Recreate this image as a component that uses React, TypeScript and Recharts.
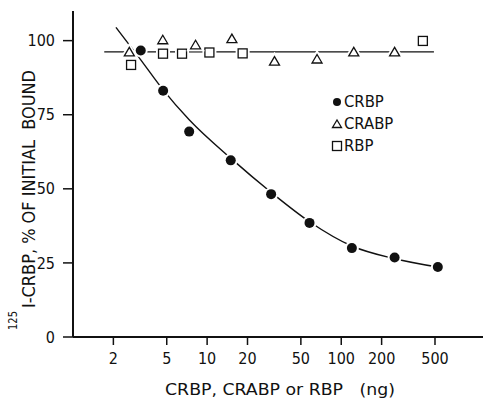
import { Legend, Scatter, ScatterChart, XAxis, YAxis } from "recharts";

const FONT =
  "'Liberation Sans Narrow', 'Arial Narrow', 'DejaVu Sans Condensed', 'Liberation Sans', sans-serif";

const xTicks = [2, 5, 10, 20, 50, 100, 200, 500];
const yTicks = [0, 25, 50, 75, 100];

// ng of competitor vs % of initial bound
const crbpDose = [3.2, 4.7, 7.35, 15, 30, 58, 120, 250, 525];
const crbpBound = [96.7, 83.1, 69.3, 59.6, 48.2, 38.5, 30.0, 26.8, 23.6];

const crabpDose = [2.63, 4.67, 8.2, 15.3, 31.8, 66, 124, 250];
const crabpBound = [96.2, 100.3, 98.6, 100.7, 93.1, 93.8, 96.2, 96.2];

const rbpDose = [2.71, 4.69, 6.5, 10.4, 18.4, 406];
const rbpBound = [91.8, 95.6, 95.6, 96.0, 95.7, 99.9];

// hand-drawn curve through CRBP points and the flat line
const fitDose = [2.09, 3.18, 4.7, 7.35, 15.2, 30.4, 58, 120, 250, 525];
const fitBound = [104.5, 93.7, 83.4, 73.3, 60.1, 48.6, 38.9, 30.7, 26.4, 23.6];

const flatDose = [1.71, 491];
const flatBound = [96.2, 96.2];

const legendNames = ["CRBP", "CRABP", "RBP"];

const zip = (xs: number[], ys: number[]) => xs.map((x, i) => ({ x, y: ys[i] }));

const Filled = (p: any) => (
  <g>
    <circle cx={p.cx} cy={p.cy} r={7} fill="#fff" />
    <circle cx={p.cx} cy={p.cy} r={5} fill="#111" />
  </g>
);

const Tri = (p: any) => {
  const pts = `${p.cx - 5},${p.cy + 4} ${p.cx + 5},${p.cy + 4} ${p.cx},${p.cy - 4.5}`;
  return (
    <g>
      <polygon points={pts} fill="#fff" stroke="#fff" strokeWidth={5} />
      <polygon points={pts} fill="#fff" stroke="#111" strokeWidth={1.3} />
    </g>
  );
};

const Sq = (p: any) => (
  <g>
    <rect x={p.cx - 4.5} y={p.cy - 4.5} width={9} height={9} fill="#fff" stroke="#fff" strokeWidth={5} />
    <rect x={p.cx - 4.5} y={p.cy - 4.5} width={9} height={9} fill="#fff" stroke="#111" strokeWidth={1.3} />
  </g>
);

const Nothing = () => <g />;

const icons = [
  <circle cx={6} cy={8} r={4} fill="#111" />,
  <polygon points="1.5,11.5 10.5,11.5 6,4" fill="#fff" stroke="#111" strokeWidth={1.3} />,
  <rect x={1.5} y={3.5} width={9} height={9} fill="#fff" stroke="#111" strokeWidth={1.3} />,
];

const LegendBox = () => (
  <div style={{ fontFamily: FONT, fontSize: 16.5, color: "#111", lineHeight: "22px" }}>
    {legendNames.map((n, i) => (
      <div key={n} style={{ display: "flex", alignItems: "center" }}>
        <svg width={12} height={16} style={{ marginRight: 1 }}>
          {icons[i]}
        </svg>
        <span>{n}</span>
      </div>
    ))}
  </div>
);

const YTitle = () => (
  <g transform="rotate(-90)" fill="#111" fontFamily={FONT}>
    <text x={-330} y={17} fontSize={12} textLength={19} lengthAdjust="spacingAndGlyphs">
      125
    </text>
    <text
      x={-308}
      y={35}
      fontSize={18}
      textLength={238}
      lengthAdjust="spacingAndGlyphs"
      style={{ whiteSpace: "pre" }}
    >
      {"I-CRBP, % OF INITIAL  BOUND"}
    </text>
  </g>
);

const XTitle = () => (
  <text
    x={165}
    y={395}
    fill="#111"
    fontFamily={FONT}
    fontSize={16.5}
    textLength={230}
    lengthAdjust="spacingAndGlyphs"
    style={{ whiteSpace: "pre" }}
  >
    {"CRBP, CRABP or RBP   (ng)"}
  </text>
);

export default function App() {
  const tick = { fill: "#111", fontSize: 16, fontFamily: FONT };
  return (
    <div style={{ position: "absolute", left: 0, top: 0, width: 483, height: 400, background: "#fff" }}>
      <ScatterChart width={483} height={400} margin={{ top: 11, right: 0, left: 0, bottom: 0 }}>
        <XAxis
          dataKey="x"
          type="number"
          scale="log"
          domain={[1, 1140]}
          ticks={xTicks}
          allowDataOverflow
          height={63}
          axisLine={{ stroke: "#111", strokeWidth: 2 }}
          tickLine={{ stroke: "#111", strokeWidth: 1.5 }}
          tickSize={8}
          tickMargin={8}
          tick={tick}
        />
        <YAxis
          dataKey="y"
          type="number"
          domain={[0, 110]}
          ticks={yTicks}
          allowDataOverflow
          width={73}
          axisLine={{ stroke: "#111", strokeWidth: 2 }}
          tickLine={{ stroke: "#111", strokeWidth: 1.5 }}
          tickSize={10}
          tickMargin={8}
          tick={tick}
        />
        <Scatter
          data={zip(flatDose, flatBound)}
          line={{ stroke: "#111", strokeWidth: 1.4 }}
          shape={Nothing}
          legendType="none"
          isAnimationActive={false}
        />
        <Scatter
          data={zip(fitDose, fitBound)}
          line={{ stroke: "#111", strokeWidth: 1.4 }}
          lineJointType="monotoneX"
          shape={Nothing}
          legendType="none"
          isAnimationActive={false}
        />
        <Scatter name="RBP" data={zip(rbpDose, rbpBound)} shape={Sq} isAnimationActive={false} />
        <Scatter name="CRABP" data={zip(crabpDose, crabpBound)} shape={Tri} isAnimationActive={false} />
        <Scatter name="CRBP" data={zip(crbpDose, crbpBound)} shape={Filled} isAnimationActive={false} />
        <Legend
          layout="horizontal"
          verticalAlign="middle"
          align="center"
          content={LegendBox}
          wrapperStyle={{ left: 331, top: 91, width: 90 }}
        />
        <YTitle />
        <XTitle />
      </ScatterChart>
    </div>
  );
}
